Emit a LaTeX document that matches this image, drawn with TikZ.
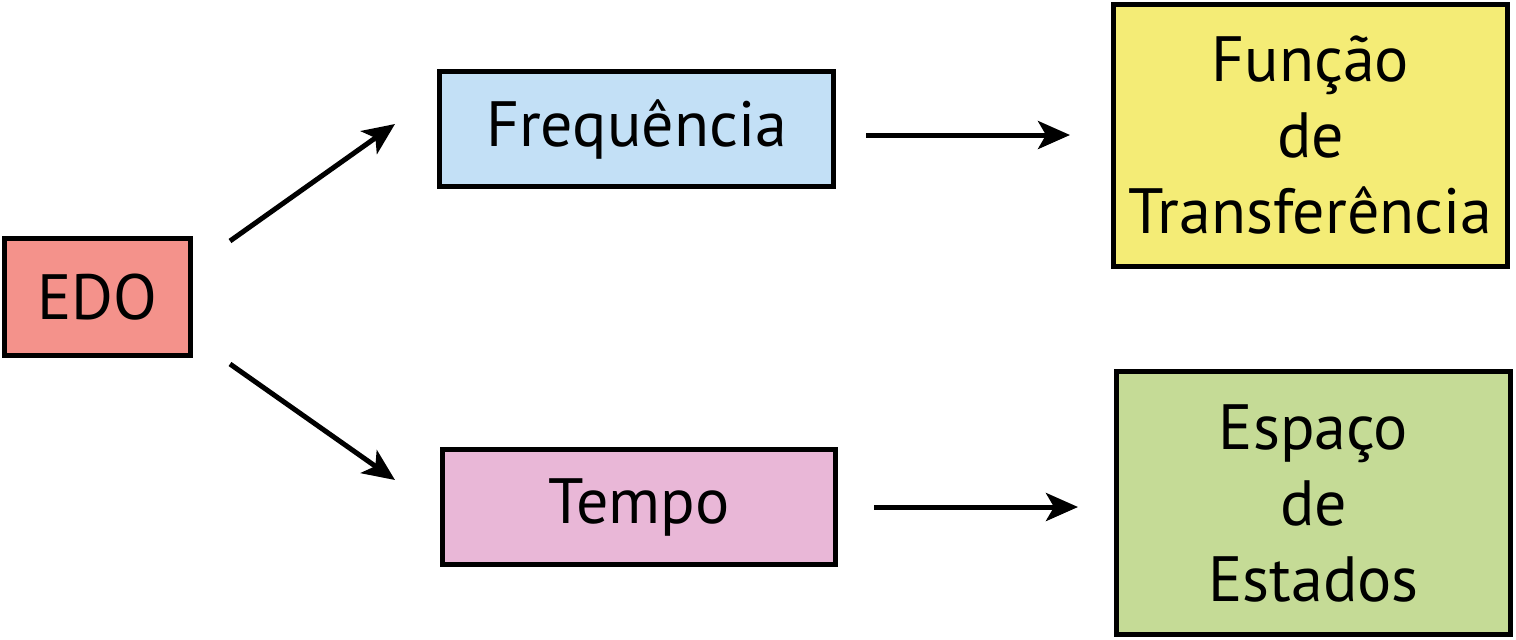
\documentclass[tikz,border=0pt]{standalone}
\usepackage{fontspec}
\setmainfont{PT Sans}
\usetikzlibrary{arrows.meta}
\definecolor{cedo}{HTML}{F4928B}
\definecolor{cfreq}{HTML}{C3E0F6}
\definecolor{ctempo}{HTML}{E9B7D7}
\definecolor{cfunc}{HTML}{F4EC76}
\definecolor{cesp}{HTML}{C5DB96}
\tikzset{
  box/.style={draw=black, line width=2.5pt, inner sep=0pt, align=center,
    font=\fontsize{32}{38}\selectfont},
  conn/.style={line width=2.5pt, -{Stealth[length=16pt,width=14pt,inset=4pt]}},
}
\begin{document}
\begin{tikzpicture}[x=0.5pt,y=-0.5pt]
\useasboundingbox (0,0) rectangle (1516,639);
\node[box, fill=cedo, minimum width=93pt, minimum height=58.5pt] (edo) at (97.5,297) {EDO};
\node[box, fill=cfreq, minimum width=197pt, minimum height=57.5pt] (freq) at (636.5,129) {Frequência};
\node[box, fill=ctempo, minimum width=196.5pt, minimum height=57.5pt] (tempo) at (639,507) {Tempo};
\node[box, fill=cfunc, minimum width=197pt, minimum height=131pt] (func) at (1310.5,135.5) {Função\\de\\Transferência};
\node[box, fill=cesp, minimum width=197pt, minimum height=131.5pt] (esp) at (1313.5,503) {Espaço\\de\\Estados};
\coordinate (a1s) at (230,241);
\coordinate (a1e) at (395,124);
\coordinate (a2s) at (230,364);
\coordinate (a2e) at (395,480);
\coordinate (a3s) at (866,135);
\coordinate (a3e) at (1070,135);
\coordinate (a4s) at (874,507);
\coordinate (a4e) at (1078,507);
\draw[conn] (a1s) -- (a1e);
\draw[conn] (a2s) -- (a2e);
\draw[conn] (a3s) -- (a3e);
\draw[conn] (a4s) -- (a4e);
\end{tikzpicture}
\end{document}
